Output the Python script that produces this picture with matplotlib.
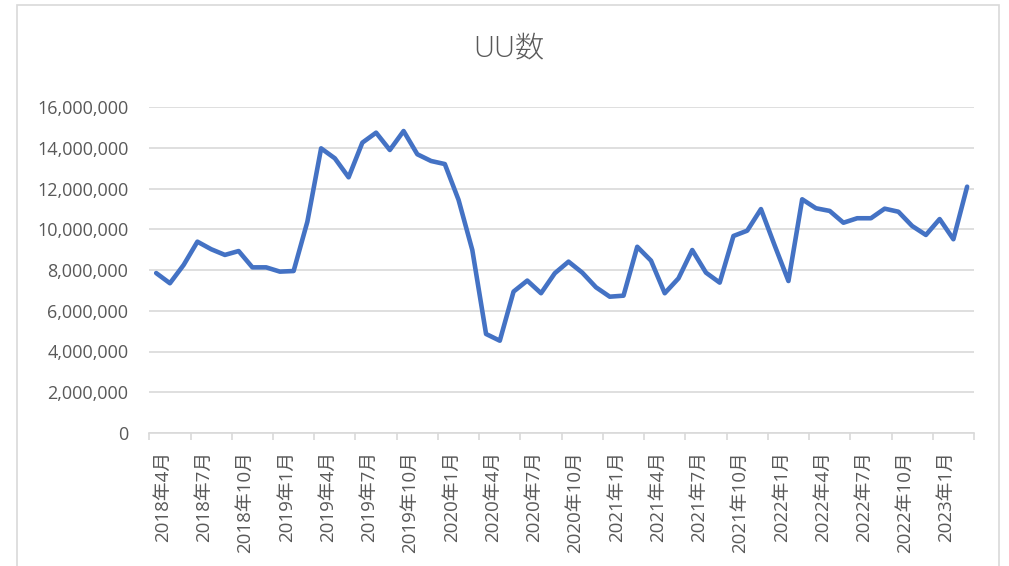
import matplotlib
matplotlib.use("Agg")
import matplotlib.pyplot as plt
from matplotlib.ticker import FuncFormatter, FixedLocator, NullFormatter
from matplotlib.patches import Rectangle

plt.rcParams['font.family'] = ['Open Sans', 'Noto Sans CJK JP', 'DejaVu Sans']

title = "UU数"
months = [f"{y}年{m}月" for y, m in
          [(2018, m) for m in range(4, 13)] + [(yy, m) for yy in (2019, 2020, 2021, 2022) for m in range(1, 13)] + [(2023, m) for m in range(1, 4)]]
uu = [7.85e6, 7.35e6, 8.25e6, 9.39e6, 9.02e6, 8.74e6, 8.93e6, 8.13e6, 8.13e6, 7.92e6,
      7.95e6, 10.37e6, 13.97e6, 13.48e6, 12.55e6, 14.25e6, 14.74e6, 13.89e6, 14.82e6, 13.68e6,
      13.35e6, 13.20e6, 11.44e6, 8.98e6, 4.86e6, 4.53e6, 6.94e6, 7.48e6, 6.86e6, 7.84e6,
      8.41e6, 7.87e6, 7.15e6, 6.69e6, 6.74e6, 9.14e6, 8.46e6, 6.86e6, 7.59e6, 8.98e6,
      7.87e6, 7.38e6, 9.67e6, 9.93e6, 10.99e6, 9.20e6, 7.46e6, 11.47e6, 11.03e6, 10.90e6,
      10.32e6, 10.54e6, 10.54e6, 11.01e6, 10.86e6, 10.16e6, 9.72e6, 10.50e6, 9.51e6, 12.09e6]
y_ticks = list(range(0, 16000001, 2000000))

GRAY_TXT = "#595959"
GRID = "#d9d9d9"
LINE = "#4472c4"

fig = plt.figure(figsize=(10.09, 5.66), dpi=100)
fig.patches.append(Rectangle((17 / 1009, -0.01), (999 - 17) / 1009, 1 - 4.5 / 566 + 0.01,
                             transform=fig.transFigure, fill=False, edgecolor=GRID, linewidth=1.2))
ax = fig.add_axes([149.3 / 1009, 1 - 433 / 566, (974 - 149.3) / 1009, (433 - 107) / 566])

x = list(range(len(uu)))
ax.plot(x, uu, color=LINE, linewidth=3.3, solid_joinstyle='round', solid_capstyle='round')

ax.set_xlim(-0.5, len(uu) - 0.5)
ax.set_ylim(0, 16000000)
ax.set_yticks(y_ticks)
ax.yaxis.set_major_formatter(FuncFormatter(lambda v, p: f"{int(v):,}"))
ax.grid(axis='y', color=GRID, linewidth=1.2)
ax.set_axisbelow(True)
for s in ('left', 'right', 'top'):
    ax.spines[s].set_visible(False)
ax.spines['bottom'].set_color(GRID)
ax.spines['bottom'].set_linewidth(1.2)
ax.tick_params(axis='y', length=0, pad=15, labelsize=13, labelcolor=GRAY_TXT)

major = [i - 0.5 for i in range(0, len(uu) + 1, 3)]
ax.xaxis.set_major_locator(FixedLocator(major))
ax.xaxis.set_major_formatter(NullFormatter())
lab_pos = [i + 0.5 for i in range(0, len(uu), 3)]
ax.set_xticks(lab_pos, minor=True)
ax.set_xticklabels([months[i] for i in range(0, len(uu), 3)], minor=True, rotation=90)
ax.tick_params(axis='x', which='major', length=5, color=GRID, width=1.2, direction='out')
ax.tick_params(axis='x', which='minor', length=0, pad=13, labelsize=13.5, labelcolor=GRAY_TXT)

fig.text(509 / 1009, 1 - 49 / 566, title, ha='center', va='center', fontsize=21,
         color=GRAY_TXT, fontweight='light')

fig.savefig("out.png", dpi=100)
